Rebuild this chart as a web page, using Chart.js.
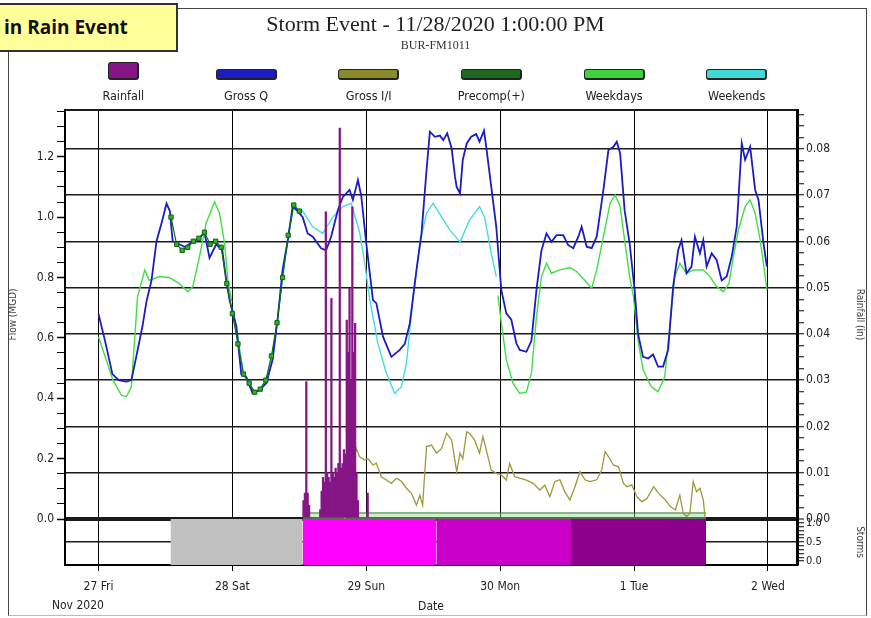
<!DOCTYPE html>
<html>
<head>
<meta charset="utf-8">
<script src="https://cdn.jsdelivr.net/npm/chart.js@4.4.1/dist/chart.umd.min.js"></script>
<style>
  html, body { margin: 0; padding: 0; background: #fff; }
  body { width: 871px; height: 618px; position: relative; overflow: hidden;
         font-family: 'Liberation Sans Narrow', 'DejaVu Sans Condensed', 'Liberation Sans', sans-serif; }
  #frame { position: absolute; left: 8px; top: 8px; width: 857px; height: 606px;
           border: 1px solid #444; border-bottom-color: #bbb; }
  #chart { position: absolute; left: 0; top: 0; }
  #legend { position: absolute; left: 62px; top: 60px; width: 736px; display: flex; }
  .item { flex: 1; text-align: center; }
  .swatch-row { height: 20px; display: flex; align-items: flex-end; justify-content: center; }
  .swatch { border: 1px solid #222; border-bottom-width: 2px; border-right-width: 2px; border-radius: 3px; }
  .lbl { font-size: 12.5px; color: #222; margin-top: 9px; line-height: 14px; }
  #note { position: absolute; left: -4px; top: 3px; width: 182px; height: 49px; box-sizing: border-box;
          background: #ffff99; border: 2px solid #333; padding-left: 6px;
          font: bold 19px 'Open Sans', 'Liberation Sans', sans-serif; line-height: 44px; color: #111; }
</style>
</head>
<body>
<div id="frame"></div>
<canvas id="chart" width="871" height="618"></canvas>
<div id="legend"></div>
<div id="note">in Rain Event</div>
<script>
// x values are hours since 27 Nov 2020 00:00
const dayLabels = ['27 Fri', '28 Sat', '29 Sun', '30 Mon', '1 Tue', '2 Wed'];
const dayTickHours = [0, 24, 48, 72, 96, 120];
const monthLabel = 'Nov 2020';
const seriesNames = ['Rainfall', 'Gross Q', 'Gross I/I', 'Precomp(+)', 'Weekdays', 'Weekends'];

const grossQ = [[0,0.68],[1.3,0.58],[2.5,0.48],[3.6,0.46],[5.0,0.455],[5.9,0.46],[6.8,0.54],[7.9,0.64],[8.6,0.72],[9.5,0.79],[10.4,0.92],[11.3,0.98],[12.2,1.045],[12.8,1.02],[13.3,0.92],[14.5,0.91],[15.6,0.90],[16.9,0.92],[18.1,0.93],[19.0,0.95],[19.9,0.865],[21.1,0.91],[22.2,0.89],[22.9,0.79],[23.5,0.725],[24.7,0.64],[25.6,0.48],[26.5,0.47],[27.6,0.417],[28.9,0.427],[30.1,0.45],[31.2,0.527],[32.1,0.66],[33.0,0.825],[33.9,0.92],[34.8,1.035],[35.7,1.02],[36.6,1.0],[37.5,0.946],[38.4,0.935],[39.9,0.897],[40.8,0.89],[41.7,0.935],[42.9,1.023],[43.8,1.067],[45.0,1.09],[45.6,1.057],[46.5,1.123],[47.1,1.07],[48.0,0.913],[49.2,0.725],[49.8,0.715],[51.0,0.604],[52.5,0.537],[54.0,0.56],[54.9,0.58],[55.8,0.648],[57.0,0.825],[57.9,0.946],[58.8,1.156],[59.4,1.283],[60.3,1.266],[61.2,1.27],[61.8,1.255],[62.5,1.278],[63.3,1.228],[63.9,1.134],[64.2,1.1],[64.8,1.079],[65.3,1.19],[66.0,1.244],[66.8,1.266],[67.7,1.275],[68.3,1.25],[69.1,1.286],[69.5,1.233],[70.4,1.1],[71.3,0.968],[72.2,0.759],[73.1,0.681],[74.0,0.66],[74.9,0.582],[75.5,0.56],[76.7,0.554],[77.6,0.59],[78.5,0.759],[79.4,0.89],[80.3,0.946],[81.2,0.918],[82.1,0.94],[83.3,0.94],[84.2,0.907],[85.1,0.897],[86.0,0.935],[86.6,0.968],[87.5,0.902],[88.4,0.897],[89.3,0.935],[90.5,1.09],[91.4,1.222],[92.3,1.233],[92.9,1.25],[93.5,1.211],[94.3,1.023],[95.2,0.913],[96.1,0.759],[96.7,0.615],[97.6,0.537],[98.5,0.532],[99.4,0.545],[100.3,0.505],[101.2,0.505],[102.1,0.56],[103.0,0.77],[103.9,0.89],[104.5,0.924],[105.4,0.814],[106.3,0.836],[106.9,0.935],[107.8,0.88],[108.4,0.924],[109.0,0.836],[109.9,0.88],[110.8,0.858],[111.7,0.79],[112.6,0.803],[113.5,0.869],[114.4,0.968],[115.3,1.244],[115.9,1.19],[116.8,1.233],[117.7,1.09],[118.3,1.057],[119.2,0.913],[119.8,0.836]];

const weekdayFri = [[0,0.604],[1.4,0.527],[2.6,0.46],[4.1,0.41],[5.0,0.405],[5.9,0.438],[7.0,0.736],[8.3,0.825],[9.1,0.79],[10.9,0.803],[12.7,0.80],[14.5,0.78],[16.0,0.753],[16.9,0.77],[18.1,0.869],[19.3,0.98],[20.8,1.051],[21.7,1.013],[22.6,0.913],[23.2,0.79],[23.9,0.72]];

const weekend = [[24.0,0.70],[25.0,0.60],[26.0,0.48],[27.0,0.45],[28.0,0.42],[29.0,0.43],[30.0,0.46],[31.0,0.53],[32.0,0.65],[33.0,0.80],[34.0,0.93],[35.0,1.04],[36.0,1.02],[36.6,1.02],[38.4,0.968],[40.2,0.946],[42.0,1.0],[43.8,1.035],[45.3,1.046],[46.8,0.95],[47.7,0.85],[48.6,0.73],[50.1,0.58],[51.6,0.483],[53.1,0.416],[54.3,0.438],[55.2,0.516],[56.4,0.736],[57.6,0.913],[58.8,1.013],[60.0,1.046],[61.5,1.0],[63.0,0.957],[64.8,0.918],[66.5,0.99],[68.3,1.035],[69.2,1.0],[70.4,0.88],[71.3,0.803]];

const weekdayMon = [[71.6,0.74],[72.2,0.65],[73.1,0.527],[74.3,0.45],[75.5,0.416],[76.7,0.42],[77.6,0.483],[78.5,0.67],[79.4,0.803],[80.3,0.847],[81.2,0.814],[82.7,0.825],[84.5,0.833],[85.7,0.82],[87.2,0.79],[88.4,0.764],[89.3,0.825],[90.5,0.935],[91.7,1.046],[92.6,1.073],[93.5,1.035],[94.3,0.924],[95.2,0.803],[95.9,0.736],[96.7,0.593],[97.6,0.494],[99.1,0.438],[100.3,0.422],[101.5,0.471],[102.4,0.637],[103.3,0.803],[104.2,0.847],[105.4,0.814],[106.6,0.825],[108.4,0.825],[109.6,0.803],[110.8,0.77],[112.0,0.753],[113.0,0.78],[113.8,0.869],[114.7,0.957],[115.9,1.035],[116.8,1.057],[117.7,1.013],[118.6,0.924],[119.5,0.803],[119.8,0.759]];

const grossII = [[44.1,0.0],[44.7,0.085],[45.3,0.152],[46.2,0.234],[46.8,0.206],[47.7,0.195],[48.3,0.20],[49.2,0.179],[49.8,0.185],[50.7,0.14],[51.6,0.129],[52.5,0.118],[53.4,0.135],[54.3,0.125],[55.2,0.102],[56.1,0.085],[57.0,0.046],[57.6,0.079],[58.1,0.046],[58.8,0.24],[59.7,0.245],[60.6,0.218],[61.5,0.234],[62.4,0.284],[63.3,0.262],[64.2,0.157],[64.8,0.218],[65.3,0.20],[66.0,0.289],[66.5,0.284],[67.4,0.262],[68.3,0.218],[68.9,0.273],[69.5,0.229],[70.4,0.162],[71.3,0.151],[72.2,0.146],[73.1,0.129],[73.7,0.184],[74.6,0.14],[75.5,0.135],[76.7,0.129],[77.9,0.118],[79.1,0.096],[80.0,0.112],[80.9,0.074],[81.8,0.124],[82.7,0.13],[83.6,0.09],[84.5,0.063],[85.4,0.107],[86.3,0.157],[87.2,0.13],[88.1,0.124],[89.3,0.13],[90.2,0.162],[90.8,0.223],[91.4,0.207],[92.3,0.179],[93.2,0.173],[94.1,0.118],[94.7,0.107],[95.6,0.113],[96.5,0.074],[97.4,0.057],[98.3,0.068],[99.5,0.107],[100.4,0.085],[101.6,0.063],[102.5,0.041],[103.4,0.03],[104.2,0.079],[104.8,0.019],[105.4,0.008],[106.0,0.019],[106.6,0.124],[107.2,0.09],[107.8,0.102],[108.4,0.063],[108.7,0.008]];

const precompMarks = [[13,1.0],[14,0.91],[15,0.89],[16,0.90],[17,0.92],[18,0.93],[19,0.95],[20,0.91],[21,0.92],[22,0.90],[23,0.78],[24,0.68],[25,0.58],[26,0.48],[27,0.45],[28,0.42],[29,0.43],[30,0.46],[31,0.54],[32,0.65],[33,0.80],[34,0.94],[35,1.04],[36,1.02]];
const precompBase = [[36.6,0.02],[108.9,0.02]];

const rainfall = [[36.75,0.004],[37.0,0.0056],[37.25,0.0297],[37.5,0.0056],[37.75,0.003],[39.75,0.002],[40.0,0.006],[40.25,0.009],[40.5,0.008],[40.75,0.0664],[41.0,0.010],[41.25,0.009],[41.5,0.008],[41.75,0.0477],[42.0,0.010],[42.25,0.009],[42.5,0.011],[42.75,0.010],[43.0,0.012],[43.25,0.0845],[43.5,0.011],[43.75,0.012],[44.0,0.015],[44.25,0.014],[44.5,0.043],[44.75,0.036],[45.0,0.0499],[45.25,0.030],[45.5,0.0675],[45.75,0.036],[46.0,0.0423],[46.25,0.010],[46.5,0.004],[48.25,0.0056]];

// storm strip periods (hours): pre-storm day, storm day, two recovery days
const stormStart = [12.9, 36.6, 60.6, 84.7];
const stormEnd = [36.6, 60.6, 84.7, 108.9];
const stormBandTop = 1.1;

const stormColors = ['#c0c0c0', '#ff00ff', '#c800c8', '#8c008c'];
const swatchColors = ['#861686', '#1c1cc0', '#8c8a2a', '#1f6a1f', '#3cd43c', '#40d8d8'];

const pts = arr => arr.map(p => ({x: p[0], y: p[1]}));

// html legend: swatch above label
const legendEl = document.getElementById('legend');
seriesNames.forEach((name, i) => {
  const item = document.createElement('div');
  item.className = 'item';
  const row = document.createElement('div');
  row.className = 'swatch-row';
  const sw = document.createElement('div');
  sw.className = 'swatch';
  sw.style.background = swatchColors[i];
  sw.style.width = i === 0 ? '28px' : '58px';
  sw.style.height = i === 0 ? '15px' : '8px';
  row.appendChild(sw);
  const lbl = document.createElement('div');
  lbl.className = 'lbl';
  lbl.textContent = name;
  item.appendChild(row);
  item.appendChild(lbl);
  legendEl.appendChild(item);
});

Chart.defaults.font.family = "'Liberation Sans Narrow', 'DejaVu Sans Condensed', 'Liberation Sans', sans-serif";
Chart.defaults.color = '#222';

const flowLine = {type: 'line', yAxisID: 'y', pointRadius: 0, tension: 0, fill: false};

const datasets = [
  {type: 'bar', label: 'Rainfall', yAxisID: 'yR', order: 0, data: pts(rainfall),
   backgroundColor: '#861686', barThickness: 1.6},
  Object.assign({}, flowLine, {label: 'Precomp(+)', order: 1, data: pts(precompMarks),
   borderColor: '#126e12', borderWidth: 1.2, pointRadius: 3, pointStyle: 'rect',
   pointBackgroundColor: '#2bb52b', pointBorderColor: '#0f5f0f', pointBorderWidth: 1}),
  Object.assign({}, flowLine, {label: 'Gross Q', order: 2, data: pts(grossQ),
   borderColor: '#1c1cc4', borderWidth: 1.8}),
  Object.assign({}, flowLine, {label: 'Weekends', order: 3, data: pts(weekend),
   borderColor: '#44dddd', borderWidth: 1.4}),
  Object.assign({}, flowLine, {label: 'Weekdays', order: 4,
   data: pts(weekdayFri).concat([{x: 48, y: null}], pts(weekdayMon)),
   borderColor: '#44dd44', borderWidth: 1.4, spanGaps: false}),
  Object.assign({}, flowLine, {label: 'Gross I/I', order: 5, data: pts(grossII),
   borderColor: '#9c9a3a', borderWidth: 1.3}),
  Object.assign({}, flowLine, {label: 'Precomp(+) base', order: 6, data: pts(precompBase),
   borderColor: '#2a7a2a', borderWidth: 1, fill: 'origin', backgroundColor: 'rgba(150,215,150,0.45)'})
];
stormStart.forEach((s, i) => {
  datasets.push({type: 'line', yAxisID: 'yS', order: 20 + i,
    data: [{x: s, y: stormBandTop}, {x: stormEnd[i], y: stormBandTop}],
    borderWidth: 0, pointRadius: 0, fill: 'start', backgroundColor: stormColors[i]});
});

const axisTitle = (text, pad) => ({display: true, text: text, color: '#444', font: {size: 10}, padding: pad});

new Chart(document.getElementById('chart'), {
  type: 'line',
  data: {datasets: datasets},
  options: {
    responsive: false,
    animation: false,
    events: [],
    layout: {padding: 0},
    plugins: {
      legend: {display: false},
      tooltip: {enabled: false},
      title: {display: true, text: 'Storm Event - 11/28/2020 1:00:00 PM', color: '#222',
        font: {family: "'Liberation Serif', serif", size: 22, weight: 'normal'}, padding: {top: 12, bottom: 0}},
      subtitle: {display: true, text: 'BUR-FM1011', color: '#333',
        font: {family: "'Liberation Serif', serif", size: 12}, padding: {top: 0, bottom: 57.2}}
    },
    scales: {
      x: {
        type: 'linear', min: -6, max: 125.2, offset: false,
        afterBuildTicks: s => { s.ticks = dayTickHours.map(v => ({value: v})); },
        afterFit: s => { s.height = 53; },
        ticks: {autoSkip: false, maxRotation: 0, padding: 6, color: '#222', font: {size: 12, lineHeight: 1.6},
          callback: (v, i) => i === 0 ? [dayLabels[0], monthLabel + '            '] : dayLabels[i]},
        grid: {color: '#000', lineWidth: 1, tickLength: 6, tickColor: '#000', offset: false},
        border: {color: '#000', width: 2},
        title: {display: true, text: 'Date', color: '#222', font: {size: 12}, padding: {top: 0, bottom: 4}}
      },
      // left stacks are laid out in reverse order, so the strip spacer comes first
      yPad: {
        position: 'left', stack: 'left', stackWeight: 46, min: 0, max: 1,
        afterFit: s => { s.width = 65; },
        ticks: {display: false},
        grid: {display: false},
        border: {color: '#000', width: 2}
      },
      y: {
        position: 'left', stack: 'left', stackWeight: 409,
        min: 0, max: 1.3548,
        afterBuildTicks: s => { s.ticks = []; for (let k = 0; k <= 27; k++) s.ticks.push({value: k * 0.05}); },
        afterFit: s => { s.width = 65; },
        ticks: {autoSkip: false, padding: 3, color: '#222', font: {size: 12},
          callback: (v, i) => i % 4 === 0 ? (i * 0.05).toFixed(1) : ''},
        grid: {drawOnChartArea: false, tickLength: 8, tickColor: '#000',
          tickWidth: c => c.index % 4 === 0 ? 1.5 : 1},
        border: {color: '#000', width: 2},
        title: axisTitle('Flow (MGD)', {top: 7, bottom: 0})
      },
      yR: {
        position: 'right', stack: 'right', stackWeight: 409,
        min: 0, max: 0.08843,
        afterBuildTicks: s => {
          s.ticks = [];
          for (let k = 0; k <= 35; k++) s.ticks.push({value: k * 0.0025});
          s.ticks.push({value: 0.08843});
        },
        afterFit: s => { s.width = 74; },
        ticks: {autoSkip: false, padding: 2, color: '#222', font: {size: 12},
          callback: (v, i) => (i % 4 === 0 && i <= 35) ? (i * 0.0025).toFixed(2) : ''},
        grid: {
          color: c => (c.index % 4 === 0 || c.index === 36) ? '#1a1a1a' : 'rgba(0,0,0,0)',
          lineWidth: c => c.index === 0 ? 4 : (c.index === 36 ? 2 : 1.5),
          tickColor: c => c.index === 36 ? 'rgba(0,0,0,0)' : '#000',
          tickWidth: 1, tickLength: 7
        },
        border: {color: '#000', width: 3},
        title: axisTitle('Rainfall (in)', {top: 5, bottom: 0})
      },
      yS: {
        position: 'right', stack: 'right', stackWeight: 46,
        min: -0.1, max: 1.1,
        afterBuildTicks: s => { s.ticks = []; for (let k = 0; k <= 10; k++) s.ticks.push({value: k / 10}); },
        afterFit: s => { s.width = 74; },
        ticks: {autoSkip: false, padding: 2, color: '#222', font: {size: 11, lineHeight: 1},
          callback: (v, i) => i % 5 === 0 ? (i / 10).toFixed(1) : ''},
        grid: {color: c => c.index === 5 ? '#1a1a1a' : 'rgba(0,0,0,0)', lineWidth: 1.5,
          tickColor: '#000', tickWidth: 1, tickLength: 7},
        border: {color: '#000', width: 3},
        title: axisTitle('Storms', {top: 5, bottom: 0})
      }
    }
  }
});
</script>
</body>
</html>
